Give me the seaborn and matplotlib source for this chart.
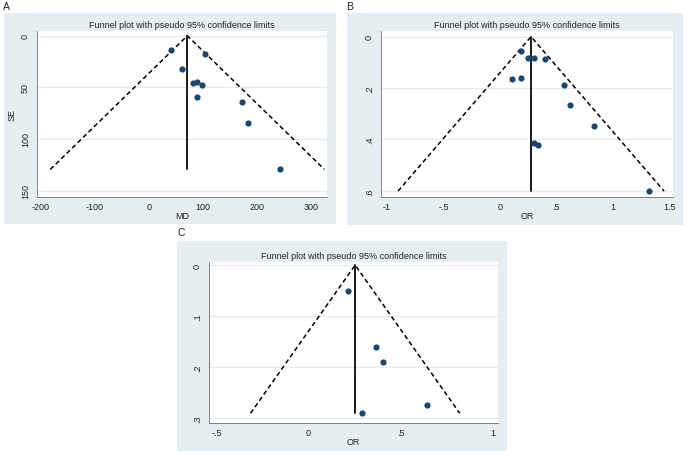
"""
Funnel plots with pseudo 95% confidence limits (three panels, Stata-like look)
"""

import numpy as np
import pandas as pd
import matplotlib
matplotlib.use('Agg')
import matplotlib.pyplot as plt
from matplotlib.patches import Rectangle
import seaborn as sns

sns.set_style("white")
plt.rcParams['font.family'] = ['Liberation Sans', 'DejaVu Sans']

# Panel A: mean difference
md_a = [40, 103, 62, 81, 88, 98, 88, 172, 184, 242]
se_a = [13.5, 18, 32, 45.5, 45, 48, 59, 64, 85, 129.5]
pooled_a = 71
xticks_a = [-200, -100, 0, 100, 200, 300]
xlabels_a = ['-200', '-100', '0', '100', '200', '300']
yticks_a = [0, 50, 100, 150]
ylabels_a = ['0', '50', '100', '150']

# Panel B: odds ratio
or_b = [0.19, 0.25, 0.30, 0.40, 0.11, 0.19, 0.57, 0.62, 0.83, 0.30, 0.34, 1.32]
se_b = [0.055, 0.083, 0.082, 0.088, 0.163, 0.161, 0.187, 0.265, 0.347, 0.412, 0.420, 0.601]
pooled_b = 0.276
xticks_b = [-1, -0.5, 0, 0.5, 1, 1.5]
xlabels_b = ['-1', '-.5', '0', '.5', '1', '1.5']
yticks_b = [0, 0.2, 0.4, 0.6]
ylabels_b = ['0', '.2', '.4', '.6']

# Panel C: odds ratio
or_c = [0.215, 0.365, 0.405, 0.645, 0.29]
se_c = [0.051, 0.16, 0.19, 0.273, 0.29]
pooled_c = 0.254
xticks_c = [-0.5, 0, 0.5, 1]
xlabels_c = ['-.5', '0', '.5', '1']
yticks_c = [0, 0.1, 0.2, 0.3]
ylabels_c = ['0', '.1', '.2', '.3']

TITLE = 'Funnel plot with pseudo 95% confidence limits'
BG = '#E6EEF1'
GRID = '#E4ECEF'
AXIS = '#6E6E6E'
MARKER = '#1A476F'

W, H = 687, 456
fig = plt.figure(figsize=(W / 100, H / 100), dpi=100)
fig.patch.set_facecolor('white')


def px_rect(x0, y0, x1, y1):
    """Pixel box (top-left origin) -> figure fraction [l, b, w, h]"""
    return [x0 / W, 1 - y1 / H, (x1 - x0) / W, (y1 - y0) / H]


def panel_bg(x0, y0, x1, y1):
    l, b, w, h = px_rect(x0, y0, x1, y1)
    fig.patches.append(Rectangle((l, b), w, h, transform=fig.transFigure,
                                 facecolor=BG, edgecolor='none', zorder=-5))


def funnel(rect, est, se, pooled, xlim, ylim, xticks, xlabels, yticks, ylabels,
           xlabel, ylabel=None):
    ax = fig.add_axes(px_rect(*rect))
    ax.set_zorder(2)
    ax.set_facecolor('white')
    df = pd.DataFrame({'est': est, 'se': se})
    max_se = df['se'].max()

    # pseudo 95% limits and pooled estimate
    ax.plot([pooled - 1.96 * max_se, pooled, pooled + 1.96 * max_se],
            [max_se, 0, max_se], color='black', lw=1.1,
            linestyle=(0, (3, 2)), zorder=2)
    ax.plot([pooled, pooled], [0, max_se], color='#1a1a1a', lw=1.4, zorder=2)

    sns.scatterplot(data=df, x='est', y='se', ax=ax, color=MARKER, s=20,
                    edgecolor=MARKER, linewidth=0, zorder=3)

    ax.set_xlim(*xlim)
    ax.set_ylim(*ylim)
    ax.set_xticks(xticks)
    ax.set_xticklabels(xlabels)
    ax.set_yticks(yticks)
    ax.set_yticklabels(ylabels, rotation=90, va='center')
    ax.tick_params(axis='both', direction='out', length=2.5, width=0.6,
                   color=AXIS, labelsize=6.5, pad=1, labelcolor='#222222')
    ax.tick_params(axis='y', pad=2.5)
    ax.yaxis.grid(True, color=GRID, lw=0.9)
    ax.set_axisbelow(True)
    for s in ['top', 'right']:
        ax.spines[s].set_visible(False)
    for s in ['left', 'bottom']:
        ax.spines[s].set_color(AXIS)
        ax.spines[s].set_linewidth(0.6)

    ax.set_title(TITLE, fontsize=6.5, pad=3, color='#222222')
    ax.set_xlabel(xlabel, fontsize=6.5, labelpad=0, color='#222222')
    if ylabel:
        ax.set_ylabel(ylabel, fontsize=6.5, labelpad=3, color='#222222')
    else:
        ax.set_ylabel('')
    return ax


# panel backgrounds (pixel boxes)
panel_bg(4, 14, 336, 225)
panel_bg(347, 14, 683, 226)
panel_bg(177, 242, 507, 452)

funnel((37, 32, 327, 198), md_a, se_a, pooled_a, (-207.4, 329.6), (156.2, -4.6),
       xticks_a, xlabels_a, yticks_a, ylabels_a, 'MD', 'SE')
funnel((381, 32, 673, 198), or_b, se_b, pooled_b, (-1.053, 1.533), (0.624, -0.022),
       xticks_b, xlabels_b, yticks_b, ylabels_b, 'OR')
funnel((209, 263, 498, 424), or_c, se_c, pooled_c, (-0.540, 1.030), (0.309, -0.006),
       xticks_c, xlabels_c, yticks_c, ylabels_c, 'OR')

# panel letters
for letter, (x, y) in zip(['A', 'B', 'C'], [(3, 7), (346, 7), (178, 233)]):
    fig.text(x / W, 1 - y / H, letter, fontsize=7.5, va='center', ha='left',
             color='#222222')

plt.savefig('out.png', dpi=100)
plt.close()
